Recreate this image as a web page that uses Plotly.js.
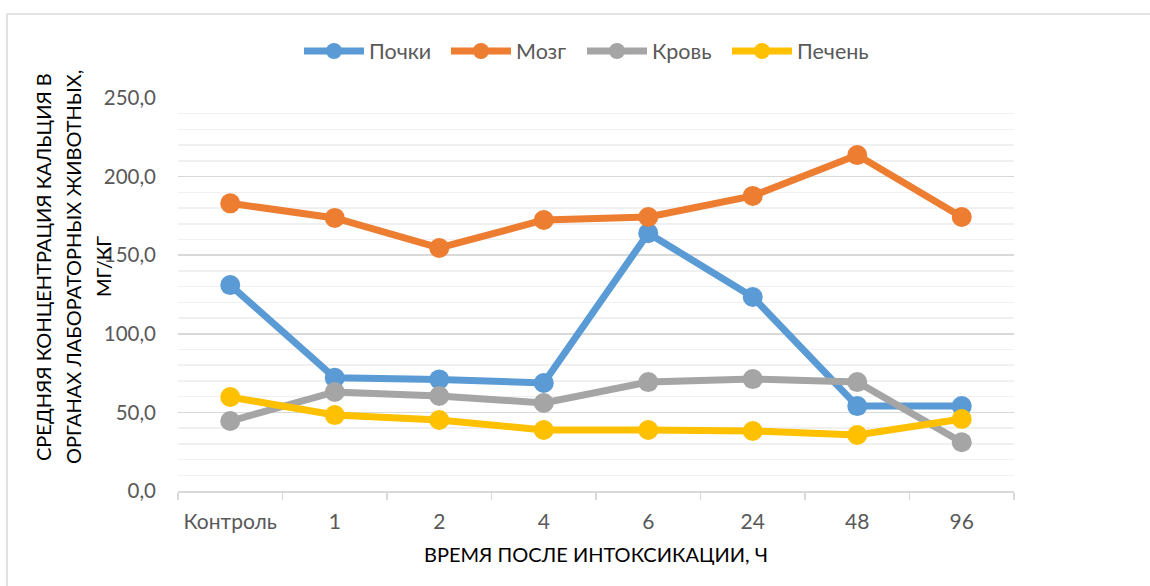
<!DOCTYPE html>
<html>
<head>
<meta charset="utf-8">
<script src="https://cdn.plot.ly/plotly-3.0.1.min.js"></script>
<style>html,body{margin:0;padding:0;background:#fff;}#chart{width:1150px;height:586px;}</style>
</head>
<body>
<div id="chart"></div>
<script>
const categories = ["Контроль", "1", "2", "4", "6", "24", "48", "96"];
const seriesNames = ["Почки", "Мозг", "Кровь", "Печень"];
const pochki = [131.0, 72.0, 71.0, 68.7, 164.0, 123.4, 54.0, 54.0];
const mozg = [183.0, 173.7, 154.6, 172.4, 174.3, 187.7, 213.7, 174.3];
const krov = [44.5, 63.0, 60.4, 56.0, 69.3, 71.2, 69.3, 31.0];
const pechen = [59.8, 48.3, 45.2, 38.8, 38.8, 38.2, 35.6, 45.8];
const yTicks = [0, 50, 100, 150, 200, 250];
const xTitle = "ВРЕМЯ ПОСЛЕ ИНТОКСИКАЦИИ, Ч";
const yTitleLines = ["СРЕДНЯЯ КОНЦЕНТРАЦИЯ КАЛЬЦИЯ В", "ОРГАНАХ ЛАБОРАТОРНЫХ ЖИВОТНЫХ,", "МГ/КГ"];

const colors = ["#5B9BD5", "#ED7D31", "#A5A5A5", "#FFC000"];
const values = [pochki, mozg, krov, pechen];
const FONT = "Lato, 'Open Sans', sans-serif";
const legendIds = ["legend", "legend2", "legend3", "legend4"];

const traces = values.map((v, i) => ({
  x: categories, y: v, name: seriesNames[i], type: "scatter", mode: "lines+markers",
  line: {color: colors[i], width: 7},
  marker: {color: colors[i], size: 20, symbol: "circle"},
  legend: legendIds[i],
  hoverinfo: "x+y+name"
}));

// plot area in pixels: x 178..1014, y 98..491
const px = x => (x - 178) / 836;
const py = y => (491 - y) / 393;
const titleX = [43, 73, 103];
const legendStartPx = [305, 452, 588, 733];
const LEG_OFFSET = 6;

const layout = {
  width: 1150, height: 586,
  margin: {l: 178, r: 136, t: 98, b: 95},
  paper_bgcolor: "#fff", plot_bgcolor: "#fff",
  separators: ", ",
  font: {family: FONT, color: "#595959", size: 20},
  showlegend: true,
  xaxis: {
    type: "category", range: [-0.5, 7.5],
    showline: true, linecolor: "#d9d9d9", linewidth: 1.5,
    ticks: "outside", tickson: "boundaries", ticklen: 7, tickcolor: "#d9d9d9", tickwidth: 1.5,
    showgrid: false, zeroline: false,
    tickfont: {family: FONT, size: 21, color: "#595959"},
    ticklabelstandoff: 11,
    title: {text: xTitle, font: {family: FONT, size: 20, color: "#000"}, standoff: 16}
  },
  yaxis: {
    range: [0, 250], tickvals: yTicks, tickformat: ".1f",
    showline: false, zeroline: false,
    showgrid: true, gridcolor: "#d9d9d9", gridwidth: 1.5,
    minor: {dtick: 10, showgrid: true, gridcolor: "#f0f0f0", gridwidth: 1.5},
    tickfont: {family: FONT, size: 20.5, color: "#595959"},
    ticklabelstandoff: 21
  },
  annotations: yTitleLines.map((t, i) => ({
    xref: "paper", yref: "paper",
    x: px(titleX[i]), y: py(267),
    xanchor: "center", yanchor: "middle",
    text: t, textangle: -90, showarrow: false,
    font: {family: FONT, size: 20, color: "#000"}
  })),
  shapes: [{
    type: "rect", xref: "paper", yref: "paper",
    x0: px(7), x1: 1.3, y0: -0.4, y1: py(14),
    line: {color: "#d9d9d9", width: 1.5}, fillcolor: "rgba(0,0,0,0)", layer: "below"
  }]
};
legendIds.forEach((id, i) => {
  layout[id] = {orientation: "h", x: px(legendStartPx[i] - LEG_OFFSET), xanchor: "left",
    y: py(51), yanchor: "middle", bgcolor: "rgba(0,0,0,0)",
    font: {family: FONT, size: 21.5, color: "#595959"}, itemwidth: 60};
});

Plotly.newPlot("chart", traces, layout, {displayModeBar: false, staticPlot: true});
</script>
</body>
</html>
